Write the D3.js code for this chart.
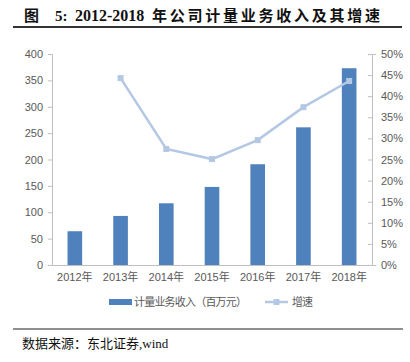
<!DOCTYPE html>
<html><head><meta charset="utf-8">
<script src="https://cdn.jsdelivr.net/npm/d3@7"></script>
<style>body{margin:0;background:#fff}svg{display:block}</style>
</head><body>
<script>
const years = ["2012年","2013年","2014年","2015年","2016年","2017年","2018年"];
const revenue = [64, 93, 117, 148, 191, 261, 373];
const growth = [null, 44.3, 27.5, 25.1, 29.6, 37.4, 43.6];
const leftTicks = [0,50,100,150,200,250,300,350,400];
const rightTicks = [0,5,10,15,20,25,30,35,40,45,50];
const titleParts = ["图","5:","2012-2018","年公司计量业务收入及其增速"];
const source = "数据来源：东北证券,wind";
const legendNames = ["计量业务收入（百万元）","增速"];

const W=410,H=362;
const svg=d3.select("body").append("svg").attr("width",W).attr("height",H);
const sans="Liberation Sans, Arial, sans-serif";
const cjk="'Liberation Serif','Noto Sans CJK SC',serif";
const barColor="#4f81bd", lineColor="#b4c8e4", axisColor="#bfbfbf", txt="#595959";

// title
const t=svg.append("text").attr("y",21).attr("font-family",cjk).attr("font-weight","bold")
  .attr("font-size",15).attr("fill","#111");
t.append("tspan").attr("x",24).text(titleParts[0]);
t.append("tspan").attr("x",55).text(titleParts[1]);
t.append("tspan").attr("x",75).attr("font-size",16).text(titleParts[2]);
t.append("tspan").attr("x",152).attr("textLength",228).attr("lengthAdjust","spacing").text(titleParts[3]);
svg.append("line").attr("x1",13).attr("x2",402).attr("y1",27).attr("y2",27).attr("stroke","#333").attr("stroke-width",1.8);

const x=d3.scaleBand().domain(years).range([52,372]).paddingInner(0.68).paddingOuter(0.34);
const y=d3.scaleLinear().domain([0,400]).range([265,54]);
const y2=d3.scaleLinear().domain([0,50]).range([265,54]);

const gl=svg.append("g").attr("transform","translate(52,0)")
  .call(d3.axisLeft(y).tickValues(leftTicks).tickSize(4).tickPadding(5));
const gr=svg.append("g").attr("transform","translate(372,0)")
  .call(d3.axisRight(y2).tickValues(rightTicks).tickSize(4).tickPadding(5).tickFormat(d=>d+"%"));
const gx=svg.append("g").attr("transform","translate(0,265)")
  .call(d3.axisBottom(x).tickSize(0).tickPadding(8));
[gl,gr,gx].forEach(g=>{
  g.select(".domain").attr("stroke",axisColor);
  g.selectAll(".tick line").attr("stroke",axisColor);
  g.selectAll("text").attr("fill",txt).attr("font-family",sans).attr("font-size",11);
});
gx.selectAll("text").attr("font-family","'Liberation Sans','Noto Sans CJK SC',sans-serif").attr("font-size",11);
gr.selectAll(".tick line").attr("x2",-4);

svg.append("g").selectAll("rect").data(years).join("rect")
  .attr("x",d=>x(d)).attr("width",x.bandwidth())
  .attr("y",(d,i)=>y(revenue[i])).attr("height",(d,i)=>y(0)-y(revenue[i]))
  .attr("fill",barColor);

const pts=years.map((d,i)=>({d,v:growth[i]})).filter(p=>p.v!=null);
const cx=d=>x(d)+x.bandwidth()/2;
svg.append("path").datum(pts).attr("fill","none").attr("stroke",lineColor).attr("stroke-width",2.5)
  .attr("d",d3.line().x(p=>cx(p.d)).y(p=>y2(p.v)));
svg.append("g").selectAll("rect").data(pts).join("rect")
  .attr("x",p=>cx(p.d)-3).attr("y",p=>y2(p.v)-3).attr("width",6).attr("height",6).attr("fill",lineColor);

// legend
const ly=302;
svg.append("rect").attr("x",109).attr("y",ly-3).attr("width",23).attr("height",6).attr("fill",barColor);
svg.append("text").attr("x",134).attr("y",ly+4).attr("font-family","'Noto Sans CJK SC',sans-serif").attr("font-size",11)
  .attr("fill",txt).attr("textLength",113).attr("lengthAdjust","spacing").text(legendNames[0]);
svg.append("line").attr("x1",265).attr("x2",288).attr("y1",ly).attr("y2",ly).attr("stroke",lineColor).attr("stroke-width",2.5);
svg.append("rect").attr("x",273.5).attr("y",ly-3).attr("width",6).attr("height",6).attr("fill",lineColor);
svg.append("text").attr("x",292).attr("y",ly+4).attr("font-family","'Noto Sans CJK SC',sans-serif").attr("font-size",11)
  .attr("fill",txt).attr("textLength",21).attr("lengthAdjust","spacing").text(legendNames[1]);

svg.append("line").attr("x1",13).attr("x2",403).attr("y1",329).attr("y2",329).attr("stroke","#222").attr("stroke-width",1.2);
svg.append("text").attr("x",22).attr("y",348).attr("font-family",cjk).attr("font-size",13).attr("fill","#111").text(source);
</script>
</body></html>
